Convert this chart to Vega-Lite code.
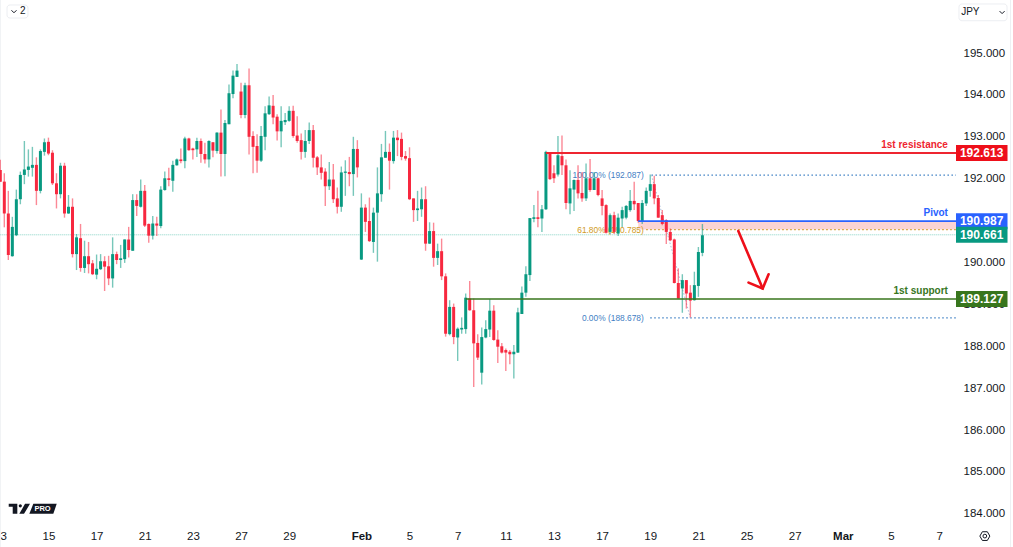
{
  "$schema": "https://vega.github.io/schema/vega-lite/v6.json",
  "width": 956,
  "height": 527,
  "autosize": "none",
  "padding": {"left": 0, "top": 0, "right": 57, "bottom": 20},
  "background": "white",
  "config": {
    "view": {"stroke": null},
    "font": "Liberation Sans",
    "axis": {"title": null, "domain": false, "ticks": false, "grid": false, "labels": true, "labelColor": "#131722", "labelFontSize": 11.5, "labelOverlap": false}
  },
  "datasets": {
    "candles": [
      {"i":0,"open":192.21,"high":192.45,"low":191.93,"close":191.93},
      {"i":1,"open":191.93,"high":192.13,"low":190.84,"close":191.17},
      {"i":2,"open":191.17,"high":191.71,"low":190.06,"close":190.18},
      {"i":3,"open":190.15,"high":191.09,"low":190.14,"close":190.85},
      {"i":4,"open":190.65,"high":191.74,"low":190.63,"close":191.51},
      {"i":5,"open":191.51,"high":192.17,"low":191.39,"close":192.09},
      {"i":6,"open":192.09,"high":192.9,"low":191.87,"close":192.22},
      {"i":7,"open":192.21,"high":192.7,"low":192.05,"close":192.29},
      {"i":8,"open":192.26,"high":192.76,"low":192.05,"close":192.33},
      {"i":9,"open":192.33,"high":192.51,"low":191.37,"close":191.71},
      {"i":10,"open":191.71,"high":192.7,"low":191.65,"close":192.66},
      {"i":11,"open":192.64,"high":192.96,"low":192.55,"close":192.87},
      {"i":12,"open":192.88,"high":192.98,"low":192.56,"close":192.6},
      {"i":13,"open":192.62,"high":192.68,"low":191.85,"close":191.89},
      {"i":14,"open":191.89,"high":192.13,"low":191.29,"close":191.63},
      {"i":15,"open":191.63,"high":192.38,"low":191.53,"close":192.31},
      {"i":16,"open":192.31,"high":192.38,"low":191.07,"close":191.17},
      {"i":17,"open":191.17,"high":191.61,"low":191.16,"close":191.33},
      {"i":18,"open":191.33,"high":191.53,"low":190.12,"close":190.2},
      {"i":19,"open":190.2,"high":190.68,"low":189.82,"close":190.6},
      {"i":20,"open":190.58,"high":190.92,"low":189.78,"close":189.87},
      {"i":21,"open":189.87,"high":190.52,"low":189.75,"close":190.15},
      {"i":22,"open":190.15,"high":190.49,"low":189.74,"close":189.96},
      {"i":23,"open":189.98,"high":190.06,"low":189.7,"close":189.72},
      {"i":24,"open":189.71,"high":190.19,"low":189.6,"close":189.85},
      {"i":25,"open":189.84,"high":190.2,"low":189.82,"close":190.03},
      {"i":26,"open":190.03,"high":190.15,"low":189.32,"close":189.9},
      {"i":27,"open":189.91,"high":190.16,"low":189.46,"close":189.62},
      {"i":28,"open":189.62,"high":190.6,"low":189.4,"close":190.2},
      {"i":29,"open":190.2,"high":190.26,"low":189.96,"close":190.06},
      {"i":30,"open":190.06,"high":190.42,"low":189.87,"close":190.1},
      {"i":31,"open":190.08,"high":190.55,"low":189.99,"close":190.55},
      {"i":32,"open":190.55,"high":190.85,"low":190.12,"close":190.3},
      {"i":33,"open":190.28,"high":191.63,"low":190.28,"close":191.49},
      {"i":34,"open":191.49,"high":191.63,"low":191.11,"close":191.35},
      {"i":35,"open":191.33,"high":191.98,"low":191.31,"close":191.71},
      {"i":36,"open":191.71,"high":191.85,"low":190.85,"close":190.88},
      {"i":37,"open":190.92,"high":190.93,"low":190.47,"close":190.64},
      {"i":38,"open":190.64,"high":191.11,"low":190.55,"close":190.93},
      {"i":39,"open":190.93,"high":191.09,"low":190.63,"close":190.88},
      {"i":40,"open":190.87,"high":191.82,"low":190.82,"close":191.74},
      {"i":41,"open":191.73,"high":192.17,"low":191.71,"close":192.01},
      {"i":42,"open":192.01,"high":192.26,"low":191.82,"close":191.97},
      {"i":43,"open":191.95,"high":192.43,"low":191.69,"close":192.33},
      {"i":44,"open":192.32,"high":192.48,"low":192.31,"close":192.46},
      {"i":45,"open":192.46,"high":192.72,"low":192.37,"close":192.42},
      {"i":46,"open":192.42,"high":193.0,"low":192.25,"close":192.96},
      {"i":47,"open":192.96,"high":192.98,"low":192.67,"close":192.68},
      {"i":48,"open":192.72,"high":192.74,"low":192.46,"close":192.68},
      {"i":49,"open":192.7,"high":192.98,"low":192.52,"close":192.9},
      {"i":50,"open":192.9,"high":192.96,"low":192.38,"close":192.59},
      {"i":51,"open":192.59,"high":192.86,"low":192.36,"close":192.46},
      {"i":52,"open":192.46,"high":192.92,"low":192.27,"close":192.9},
      {"i":53,"open":192.87,"high":192.87,"low":192.51,"close":192.67},
      {"i":54,"open":192.66,"high":193.11,"low":192.6,"close":193.1},
      {"i":55,"open":193.1,"high":193.65,"low":192.05,"close":192.59},
      {"i":56,"open":192.59,"high":193.4,"low":192.06,"close":193.33},
      {"i":57,"open":193.3,"high":194.25,"low":193.3,"close":194.04},
      {"i":58,"open":194.02,"high":194.58,"low":193.92,"close":194.46},
      {"i":59,"open":194.43,"high":194.74,"low":194.43,"close":194.58},
      {"i":60,"open":194.08,"high":194.29,"low":193.44,"close":193.52},
      {"i":61,"open":193.52,"high":194.29,"low":193.44,"close":194.23},
      {"i":62,"open":194.23,"high":194.63,"low":192.58,"close":193.0},
      {"i":63,"open":193.02,"high":193.13,"low":192.13,"close":192.76},
      {"i":64,"open":192.78,"high":193.06,"low":192.14,"close":192.43},
      {"i":65,"open":192.43,"high":193.26,"low":192.4,"close":193.02},
      {"i":66,"open":193.0,"high":193.73,"low":192.68,"close":193.56},
      {"i":67,"open":193.54,"high":193.96,"low":193.52,"close":193.75},
      {"i":68,"open":193.74,"high":194.0,"low":193.3,"close":193.46},
      {"i":69,"open":193.48,"high":193.54,"low":192.91,"close":193.13},
      {"i":70,"open":193.13,"high":193.73,"low":192.75,"close":193.38},
      {"i":71,"open":193.35,"high":193.57,"low":193.28,"close":193.4},
      {"i":72,"open":193.38,"high":193.73,"low":193.36,"close":193.62},
      {"i":73,"open":193.62,"high":193.74,"low":192.98,"close":193.02},
      {"i":74,"open":193.03,"high":193.49,"low":192.86,"close":192.9},
      {"i":75,"open":192.92,"high":193.08,"low":192.46,"close":192.64},
      {"i":76,"open":192.64,"high":193.16,"low":192.5,"close":192.9},
      {"i":77,"open":192.9,"high":193.34,"low":192.83,"close":193.16},
      {"i":78,"open":193.16,"high":193.28,"low":192.27,"close":192.5},
      {"i":79,"open":192.51,"high":192.54,"low":192.09,"close":192.27},
      {"i":80,"open":192.27,"high":192.58,"low":191.98,"close":192.14},
      {"i":81,"open":192.17,"high":192.25,"low":191.35,"close":191.82},
      {"i":82,"open":191.82,"high":192.4,"low":191.73,"close":191.98},
      {"i":83,"open":191.98,"high":192.35,"low":191.42,"close":191.51},
      {"i":84,"open":191.53,"high":191.79,"low":191.17,"close":191.33},
      {"i":85,"open":191.33,"high":192.29,"low":191.21,"close":192.15},
      {"i":86,"open":192.14,"high":192.44,"low":191.59,"close":192.17},
      {"i":87,"open":192.16,"high":192.52,"low":191.82,"close":192.11},
      {"i":88,"open":192.11,"high":193.0,"low":191.59,"close":192.71},
      {"i":89,"open":192.71,"high":192.92,"low":192.03,"close":192.27},
      {"i":90,"open":190.07,"high":191.65,"low":190.06,"close":191.31},
      {"i":91,"open":191.31,"high":191.39,"low":190.73,"close":190.97},
      {"i":92,"open":190.99,"high":191.55,"low":190.49,"close":190.51},
      {"i":93,"open":190.49,"high":191.31,"low":190.23,"close":191.19},
      {"i":94,"open":191.19,"high":192.27,"low":190.02,"close":191.65},
      {"i":95,"open":191.63,"high":192.83,"low":191.45,"close":192.51},
      {"i":96,"open":192.5,"high":193.14,"low":192.5,"close":192.64},
      {"i":97,"open":192.64,"high":192.84,"low":191.74,"close":192.43},
      {"i":98,"open":192.42,"high":193.14,"low":192.36,"close":192.98},
      {"i":99,"open":192.98,"high":193.16,"low":192.54,"close":192.92},
      {"i":100,"open":192.95,"high":193.1,"low":192.44,"close":192.52},
      {"i":101,"open":192.54,"high":192.66,"low":192.43,"close":192.48},
      {"i":102,"open":192.49,"high":192.75,"low":191.49,"close":191.51},
      {"i":103,"open":191.53,"high":191.53,"low":190.97,"close":191.25},
      {"i":104,"open":191.25,"high":191.71,"low":190.99,"close":191.29},
      {"i":105,"open":191.27,"high":191.79,"low":191.09,"close":191.51},
      {"i":106,"open":191.51,"high":191.82,"low":190.28,"close":190.45},
      {"i":107,"open":190.45,"high":190.96,"low":190.44,"close":190.75},
      {"i":108,"open":190.75,"high":190.95,"low":189.9,"close":190.11},
      {"i":109,"open":190.11,"high":190.45,"low":189.94,"close":190.27},
      {"i":110,"open":190.27,"high":190.57,"low":189.58,"close":189.67},
      {"i":111,"open":189.67,"high":189.74,"low":188.23,"close":188.3},
      {"i":112,"open":188.29,"high":189.1,"low":188.26,"close":188.94},
      {"i":113,"open":188.94,"high":189.02,"low":188.05,"close":188.22},
      {"i":114,"open":188.21,"high":188.45,"low":187.65,"close":188.42},
      {"i":115,"open":188.4,"high":188.69,"low":188.3,"close":188.44},
      {"i":116,"open":188.41,"high":189.26,"low":188.3,"close":189.16},
      {"i":117,"open":189.14,"high":189.56,"low":188.85,"close":188.86},
      {"i":118,"open":188.86,"high":189.14,"low":187.03,"close":188.07},
      {"i":119,"open":188.08,"high":188.29,"low":187.67,"close":187.73},
      {"i":120,"open":187.37,"high":188.45,"low":187.09,"close":188.22},
      {"i":121,"open":188.21,"high":188.62,"low":188.19,"close":188.41},
      {"i":122,"open":188.4,"high":189.12,"low":188.22,"close":188.85},
      {"i":123,"open":188.85,"high":188.98,"low":188.13,"close":188.15},
      {"i":124,"open":188.16,"high":188.38,"low":187.6,"close":187.99},
      {"i":125,"open":188.0,"high":188.08,"low":187.83,"close":187.85},
      {"i":126,"open":187.91,"high":187.95,"low":187.41,"close":187.85},
      {"i":127,"open":187.87,"high":187.91,"low":187.57,"close":187.81},
      {"i":128,"open":187.81,"high":188.03,"low":187.23,"close":187.87},
      {"i":129,"open":187.85,"high":188.92,"low":187.84,"close":188.81},
      {"i":130,"open":188.77,"high":189.43,"low":188.77,"close":189.28},
      {"i":131,"open":189.28,"high":189.91,"low":189.18,"close":189.72},
      {"i":132,"open":189.7,"high":191.06,"low":189.56,"close":191.06},
      {"i":133,"open":191.04,"high":191.37,"low":190.96,"close":191.08},
      {"i":134,"open":191.08,"high":191.71,"low":190.84,"close":191.04},
      {"i":135,"open":191.05,"high":191.37,"low":190.73,"close":191.27},
      {"i":136,"open":191.27,"high":192.67,"low":191.25,"close":192.64},
      {"i":137,"open":192.62,"high":192.64,"low":191.97,"close":191.99},
      {"i":138,"open":192.13,"high":192.32,"low":191.9,"close":192.01},
      {"i":139,"open":192.1,"high":193.02,"low":192.05,"close":192.56},
      {"i":140,"open":192.54,"high":193.03,"low":192.09,"close":192.32},
      {"i":141,"open":192.32,"high":192.46,"low":191.27,"close":191.42},
      {"i":142,"open":191.41,"high":192.2,"low":191.15,"close":191.77},
      {"i":143,"open":191.74,"high":191.98,"low":191.23,"close":191.97},
      {"i":144,"open":191.97,"high":192.32,"low":191.53,"close":191.65},
      {"i":145,"open":191.66,"high":192.16,"low":191.45,"close":191.53},
      {"i":146,"open":191.53,"high":192.36,"low":191.47,"close":192.01},
      {"i":147,"open":192.01,"high":192.47,"low":191.69,"close":191.73},
      {"i":148,"open":191.73,"high":192.16,"low":191.73,"close":192.01},
      {"i":149,"open":192.01,"high":192.03,"low":191.58,"close":191.61},
      {"i":150,"open":191.53,"high":191.73,"low":191.13,"close":191.35},
      {"i":151,"open":191.37,"high":191.39,"low":190.69,"close":190.71},
      {"i":152,"open":190.73,"high":191.17,"low":190.68,"close":191.13},
      {"i":153,"open":191.13,"high":191.21,"low":190.68,"close":190.73},
      {"i":154,"open":190.69,"high":191.17,"low":190.63,"close":191.07},
      {"i":155,"open":191.05,"high":191.33,"low":190.85,"close":191.25},
      {"i":156,"open":191.07,"high":191.37,"low":191.03,"close":191.35},
      {"i":157,"open":191.25,"high":191.73,"low":191.21,"close":191.47},
      {"i":158,"open":191.47,"high":191.93,"low":191.25,"close":191.39},
      {"i":159,"open":191.42,"high":191.42,"low":190.95,"close":190.99},
      {"i":160,"open":190.97,"high":191.49,"low":190.92,"close":191.42},
      {"i":161,"open":191.41,"high":191.79,"low":191.35,"close":191.71},
      {"i":162,"open":191.71,"high":192.1,"low":191.57,"close":191.87},
      {"i":163,"open":191.87,"high":192.07,"low":191.39,"close":191.53},
      {"i":164,"open":191.54,"high":191.61,"low":191.07,"close":191.07},
      {"i":165,"open":191.13,"high":191.25,"low":190.89,"close":190.92},
      {"i":166,"open":191.01,"high":191.03,"low":190.44,"close":190.73},
      {"i":167,"open":190.73,"high":190.81,"low":190.51,"close":190.53},
      {"i":168,"open":190.55,"high":190.57,"low":189.5,"close":189.51},
      {"i":169,"open":189.51,"high":189.86,"low":189.14,"close":189.14},
      {"i":170,"open":189.38,"high":189.72,"low":188.8,"close":189.58},
      {"i":171,"open":189.58,"high":189.58,"low":188.9,"close":189.26},
      {"i":172,"open":189.28,"high":189.46,"low":188.69,"close":189.09},
      {"i":173,"open":189.1,"high":189.78,"low":189.09,"close":189.46},
      {"i":174,"open":189.44,"high":190.37,"low":189.18,"close":190.25},
      {"i":175,"open":190.23,"high":190.92,"low":190.15,"close":190.65}
    ],
    "levels": [
      {"name":"1st resistance","price":192.613,"start":136,"text":"192.613"},
      {"name":"Pivot","price":190.987,"start":159,"text":"190.987"},
      {"name":"Current","price":190.661,"start":0,"text":"190.661"},
      {"name":"1st support","price":189.127,"start":116,"text":"189.127"}
    ],
    "fibs": [
      {"name":"100","label":"100.00% (192.087)","price":192.087,"start":162.3},
      {"name":"61.8","label":"61.80% (190.785)","price":190.785,"start":161},
      {"name":"0","label":"0.00% (188.678)","price":188.678,"start":162}
    ],
    "fibTrend": [
      {"i":162.3,"price":192.087},
      {"i":172,"price":188.678}
    ],
    "zone": [
      {"start":159,"end":238.21,"top":190.987,"bottom":190.785}
    ],
    "arrow": [
      {"part":"shaft","step":1,"i":183.95,"price":190.75},
      {"part":"shaft","step":2,"i":190.03,"price":189.38},
      {"part":"head","step":1,"i":186.5,"price":189.52},
      {"part":"head","step":2,"i":190.03,"price":189.38},
      {"part":"head","step":3,"i":191.5,"price":189.72}
    ],
    "chips": [
      {"x0":1.67,"x1":6.9,"y0":196.146,"y1":195.835},
      {"x0":238.95,"x1":250.93,"y0":196.17,"y1":195.77}
    ],
    "chipText": [
      {"label":"2","i":4.9,"price":195.995,"weight":"bold"},
      {"label":"JPY","i":239.5,"price":195.98,"weight":"normal"}
    ],
    "chevrons": [
      {"i":3.41,"price":195.99},
      {"i":249.7,"price":195.97}
    ],
    "borders": [
      {"i":0,"top":196.265,"bottom":183.2},
      {"i":251.8,"top":196.265,"bottom":183.2}
    ]
  },
  "layer": [
    {
      "data": {"name":"borders"},
      "mark": {"type":"rule","stroke":"#eef0f3","strokeWidth":1},
      "encoding": {
        "x": {"field":"i","type":"quantitative"},
        "y": {"field":"top","type":"quantitative"},
        "y2": {"field":"bottom"}
      }
    },
    {
      "data": {"name":"zone"},
      "mark": {"type":"rect","fill":"#fbd3d3"},
      "encoding": {
        "x": {"field":"start","type":"quantitative"},
        "x2": {"field":"end"},
        "y": {"field":"top","type":"quantitative"},
        "y2": {"field":"bottom"}
      }
    },
    {
      "data": {"name":"levels"},
      "transform": [{"filter":"datum.name == 'Current'"}],
      "mark": {"type":"rule","stroke":"#86d3c5","strokeWidth":1,"strokeDash":[1,1]},
      "encoding": {
        "x": {"field":"start","type":"quantitative"},
        "x2": {"datum":238.21},
        "y": {"field":"price","type":"quantitative"}
      }
    },
    {
      "data": {"name":"fibs"},
      "mark": {"type":"rule","strokeWidth":1.2,"strokeDash":[1.5,2.5]},
      "encoding": {
        "x": {"field":"start","type":"quantitative"},
        "x2": {"datum":238.21},
        "y": {"field":"price","type":"quantitative"},
        "color": {"field":"name","type":"nominal","legend":null,"scale":{"domain":["1st resistance","Pivot","Current","1st support","100","61.8","0"],"range":["#ee2530","#2962ff","#089981","#38761d","#3f80c4","#d09a24","#3f80c4"]}}
      }
    },
    {
      "data": {"name":"fibs"},
      "mark": {"type":"text","align":"right","baseline":"middle","fontSize":8.4,"font":"Liberation Sans"},
      "encoding": {
        "x": {"datum":160.4},
        "y": {"field":"price","type":"quantitative"},
        "text": {"field":"label"},
        "color": {"field":"name","type":"nominal","legend":null}
      }
    },
    {
      "data": {"name":"fibTrend"},
      "mark": {"type":"line","stroke":"#a9bedb","strokeWidth":1,"strokeDash":[1.5,2]},
      "encoding": {
        "x": {"field":"i","type":"quantitative"},
        "y": {"field":"price","type":"quantitative"}
      }
    },
    {
      "data": {"name":"candles"},
      "mark": {"type":"rule","strokeWidth":1.4,"opacity":0.55},
      "encoding": {
        "x": {
          "field":"i","type":"quantitative",
          "scale":{"domain":[-0.075,238.21],"nice":false,"zero":false,"padding":0},
          "axis": {
            "values":[0.75,12,24,36,48,60,72,90,102,114,126,138,150,162,174,186,198,210,222,234],
            "labelExpr":"{'0.75':'3','12':'15','24':'17','36':'21','48':'23','60':'27','72':'29','90':'Feb','102':'5','114':'7','126':'11','138':'13','150':'17','162':'19','174':'21','186':'25','198':'27','210':'Mar','222':'5','234':'7'}[datum.value]",
            "title":null,"labelPadding":3,"labelFlush":false,"labelBound":false,
            "labelFontWeight":{"condition":{"test":"datum.value == 90 || datum.value == 210","value":"bold"},"value":"normal"}
          }
        },
        "y": {
          "field":"high","type":"quantitative",
          "scale":{"domain":[183.687,196.265],"nice":false,"zero":false},
          "axis": {
            "orient":"right","values":[184,185,186,187,188,189,190,192,193,194,195],"format":".3f",
            "title":null,"labelPadding":7
          }
        },
        "y2": {"field":"low"},
        "color": {"condition":{"test":"datum.close >= datum.open","value":"#089981"},"value":"#f7283f"}
      }
    },
    {
      "data": {"name":"candles"},
      "mark": {"type":"bar","size":3,"orient":"vertical"},
      "encoding": {
        "x": {"field":"i","type":"quantitative"},
        "y": {"field":"open","type":"quantitative"},
        "y2": {"field":"close"},
        "color": {"condition":{"test":"datum.close >= datum.open","value":"#089981"},"value":"#f7283f"}
      }
    },
    {
      "data": {"name":"levels"},
      "transform": [{"filter":"datum.name != 'Current'"}],
      "mark": {"type":"rule"},
      "encoding": {
        "x": {"field":"start","type":"quantitative"},
        "x2": {"datum":238.21},
        "y": {"field":"price","type":"quantitative"},
        "strokeWidth": {"field":"name","type":"nominal","legend":null,"scale":{"domain":["1st resistance","Pivot","1st support"],"range":[2,1.5,1.6]}},
        "color": {"field":"name","type":"nominal","legend":null}
      }
    },
    {
      "data": {"name":"levels"},
      "transform": [{"filter":"datum.name != 'Current'"}],
      "mark": {"type":"text","align":"right","baseline":"middle","dy":-8,"fontSize":10,"font":"Liberation Sans","fontWeight":"bold"},
      "encoding": {
        "x": {"datum":236.2},
        "y": {"field":"price","type":"quantitative"},
        "text": {"field":"name"},
        "color": {"field":"name","type":"nominal","legend":null}
      }
    },
    {
      "data": {"name":"levels"},
      "mark": {"type":"rule","strokeWidth":16},
      "encoding": {
        "x": {"datum":238.21},
        "x2": {"datum":251.05},
        "y": {"field":"price","type":"quantitative"},
        "stroke": {"field":"name","type":"nominal","legend":null,"scale":{"domain":["1st resistance","Pivot","Current","1st support"],"range":["#ee0f1a","#2962ff","#089981","#38761d"]}}
      }
    },
    {
      "data": {"name":"levels"},
      "mark": {"type":"text","align":"center","baseline":"middle","fontSize":12,"fontWeight":"bold","fill":"white","font":"Liberation Sans"},
      "encoding": {
        "x": {"datum":244.6},
        "y": {"field":"price","type":"quantitative"},
        "text": {"field":"text"}
      }
    },
    {
      "data": {"name":"arrow"},
      "mark": {"type":"line","stroke":"#ee0f1a","strokeWidth":2.6,"strokeCap":"round","strokeJoin":"miter"},
      "encoding": {
        "x": {"field":"i","type":"quantitative"},
        "y": {"field":"price","type":"quantitative"},
        "detail": {"field":"part"},
        "order": {"field":"step"}
      }
    },
    {
      "data": {"values":[{"i":8.03,"price":184.12}]},
      "mark": {
        "type":"point","filled":true,"fill":"#131722","opacity":1,"size":4,
        "shape":"M-23.8-5H-15.2V5H-19.8V-2H-23.8ZM-13.8-3a1.6 1.6 0 1 0 3.2 0a1.6 1.6 0 1 0-3.2 0ZM-7.5-5H-2.5L-8.5 5H-13.2ZM.8-5H24.2L20.8 5H-3.2Z"
      },
      "encoding": {
        "x": {"field":"i","type":"quantitative"},
        "y": {"field":"price","type":"quantitative"}
      }
    },
    {
      "data": {"values":[{"i":10.52,"price":184.12,"label":"PRO"}]},
      "mark": {"type":"text","align":"center","baseline":"middle","fontSize":7.5,"fontWeight":"bold","fill":"white","font":"Liberation Sans"},
      "encoding": {
        "x": {"field":"i","type":"quantitative"},
        "y": {"field":"price","type":"quantitative"},
        "text": {"field":"label"}
      }
    },
    {
      "data": {"name":"chips"},
      "mark": {"type":"rect","fill":"white","stroke":"#eceef2","strokeWidth":1,"cornerRadius":3},
      "encoding": {
        "x": {"field":"x0","type":"quantitative"},
        "x2": {"field":"x1"},
        "y": {"field":"y0","type":"quantitative"},
        "y2": {"field":"y1"}
      }
    },
    {
      "data": {"name":"chipText"},
      "mark": {"type":"text","align":"left","baseline":"middle","fontSize":10,"fill":"#131722"},
      "encoding": {
        "x": {"field":"i","type":"quantitative"},
        "y": {"field":"price","type":"quantitative"},
        "text": {"field":"label"},
        "fontWeight": {"field":"weight","type":"nominal","legend":null,"scale":null}
      }
    },
    {
      "data": {"name":"chevrons"},
      "mark": {"type":"point","shape":"M-1-.5 0 .5 1-.5","filled":false,"stroke":"#131722","strokeWidth":1,"size":25,"opacity":1},
      "encoding": {
        "x": {"field":"i","type":"quantitative"},
        "y": {"field":"price","type":"quantitative"}
      }
    },
    {
      "data": {"values":[{"i":245.4,"price":183.47}]},
      "mark": {"type":"point","shape":"M-.5-.87.5-.87 1 0 .5.87-.5.87-1 0Z","filled":false,"stroke":"#131722","strokeWidth":1,"size":100,"opacity":1},
      "encoding": {
        "x": {"field":"i","type":"quantitative"},
        "y": {"field":"price","type":"quantitative"}
      }
    },
    {
      "data": {"values":[{"i":245.4,"price":183.47}]},
      "mark": {"type":"point","shape":"circle","filled":false,"stroke":"#131722","strokeWidth":1,"size":14,"opacity":1},
      "encoding": {
        "x": {"field":"i","type":"quantitative"},
        "y": {"field":"price","type":"quantitative"}
      }
    }
  ]
}
